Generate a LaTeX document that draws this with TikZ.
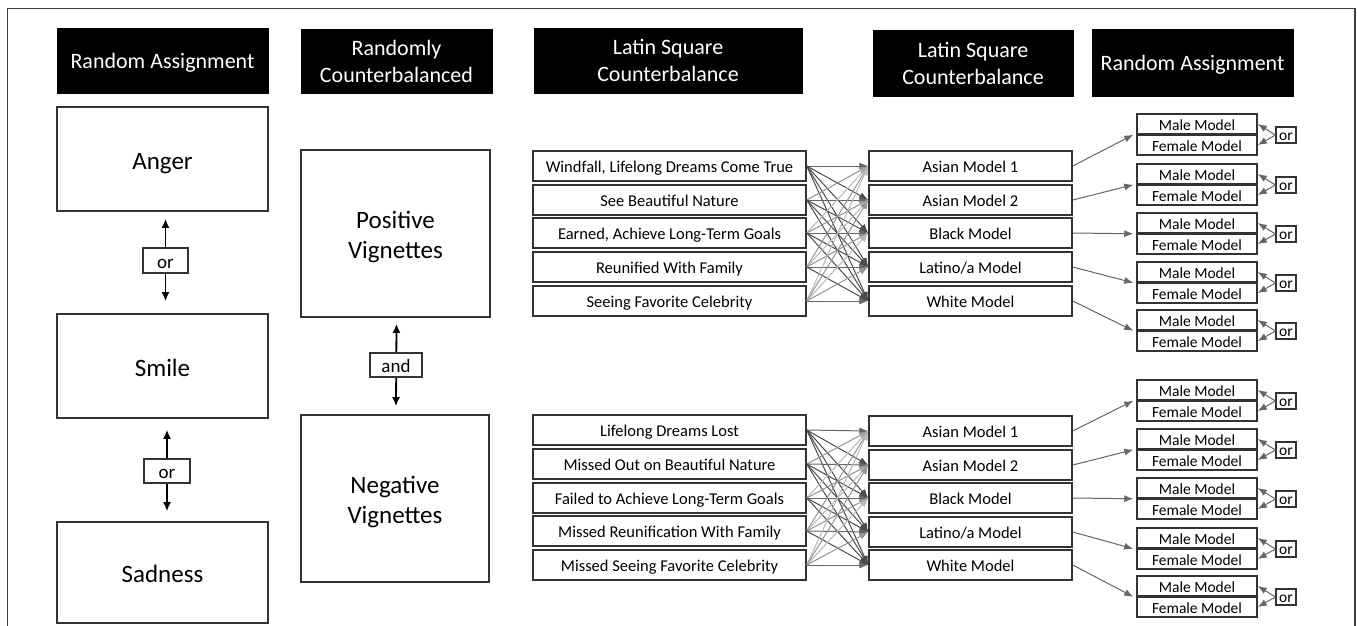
\documentclass[tikz,border=0pt]{standalone}
\usepackage{fontspec}
\setmainfont{Carlito}
\usetikzlibrary{arrows.meta}
\newcommand\placebox[7]{\node[#6, minimum width={((#4)-(#2))*1pt}, minimum height={((#5)-(#3))*1pt}] (#1) at ({((#2)+(#4))/2},{((#3)+(#5))/2}) {#7};}
\begin{document}
\begin{tikzpicture}[x=1pt,y=-1pt,
  hdr/.style={fill=black, draw=black, text=white, inner sep=0pt, align=center, font=\fontsize{22}{27}\selectfont},
  hdrone/.style={hdr, text height=16pt, text depth=0pt},
  bigbox/.style={draw=black!80, line width=1.6pt, fill=white, inner sep=0pt, font=\fontsize{25}{30}\selectfont, text height=20pt, text depth=0pt},
  emptybox/.style={draw=black!80, line width=1.6pt, fill=white, inner sep=0pt},
  bigtext/.style={inner sep=0pt, align=center, font=\fontsize{25}{30}\selectfont},
  orbox/.style={draw=black!80, line width=1.3pt, fill=white, inner sep=0pt, font=\fontsize{19}{22}\selectfont, text height=15pt, text depth=0pt},
  rowbox/.style={draw=black!80, line width=1.5pt, fill=white, inner sep=0pt, font=\fontsize{16.5}{20}\selectfont, text height=12pt, text depth=0pt},
  mfbox/.style={draw=black!80, line width=1.5pt, fill=white, inner sep=0pt, font=\fontsize{15.5}{18}\selectfont, text height=12pt, text depth=0pt},
  smallor/.style={draw=black!80, line width=1.1pt, fill=white, inner sep=0pt, font=\fontsize{15.5}{18}\selectfont, text height=11pt, text depth=0pt},
  mainarrow/.style={line width=1.8pt, {Latex[length=9pt,width=8pt]}-{Latex[length=9pt,width=8pt]}},
  cross/.style={line width=1pt, -{Latex[length=9pt,width=7pt]}},
  garrow/.style={draw=black!60, line width=1pt, -{Latex[length=9pt,width=7pt]}},
]
\useasboundingbox (0,0) rectangle (1357,625);
\fill[white] (0,0) rectangle (1357,625);
% frame
\draw[black!75, line width=1.3pt] (7.5,626) -- (7.5,8.5) -- (1355,8.5) -- (1355,626);

% headers
\placebox{h1}{57}{28}{268}{93}{hdrone}{Random Assignment}
\placebox{h2}{301}{29}{492}{93}{hdr}{Randomly\\Counterbalanced}
\placebox{h3}{534}{28}{802}{93}{hdr}{Latin Square\\Counterbalance}
\placebox{h4}{873}{30}{1073}{96}{hdr}{Latin Square\\Counterbalance}
\placebox{h5}{1092}{29}{1293}{96}{hdrone}{Random Assignment}

% emotions
\placebox{anger}{57}{107}{268}{211}{bigbox}{Anger}
\placebox{smile}{57}{314}{268}{418}{bigbox}{Smile}
\placebox{sad}{57}{522}{268}{623}{bigbox}{Sadness}
\draw[mainarrow] ([xshift=3pt,yshift=-7pt]anger.south) -- ([xshift=3pt,yshift=12pt]smile.north);
\placebox{or1}{143}{248}{188}{273}{orbox}{or}
\draw[mainarrow] ([xshift=4.5pt,yshift=-11pt]smile.south) -- ([xshift=4.5pt,yshift=10pt]sad.north);
\placebox{or2}{144}{459}{190}{483}{orbox}{or}

% vignettes
\placebox{pos}{301}{150}{490}{317}{emptybox}{}
\node[bigtext] (postext) at ([yshift=-3.5pt]pos.center) {Positive\\Vignettes};
\placebox{neg}{301}{415}{489}{582}{emptybox}{}
\node[bigtext] (negtext) at ([yshift=-3pt]neg.center) {Negative\\Vignettes};
\draw[mainarrow] ([xshift=1pt,yshift=-6pt]pos.south) -- ([xshift=1pt,yshift=8pt]neg.north);
\placebox{and}{370}{353}{422}{377}{orbox}{and}

% vignette rows
\foreach \k/\t/\txt in {1/151/{Windfall, Lifelong Dreams Come True},2/185/{See Beautiful Nature},3/218/{Earned, Achieve Long-Term Goals},4/252/{Reunified With Family},5/286/{Seeing Favorite Celebrity}}{
  \placebox{pv\k}{533}{\t}{806}{\t+30}{rowbox}{\txt}
}
\foreach \k/\t/\txt in {1/415/{Lifelong Dreams Lost},2/449/{Missed Out on Beautiful Nature},3/483/{Failed to Achieve Long-Term Goals},4/516/{Missed Reunification With Family},5/550/{Missed Seeing Favorite Celebrity}}{
  \placebox{nv\k}{533}{\t}{806}{\t+30}{rowbox}{\txt}
}
% models
\foreach \k/\t/\txt in {1/151/{Asian Model 1},2/185/{Asian Model 2},3/218/{Black Model},4/252/{Latino/a Model},5/286/{White Model}}{
  \placebox{pm\k}{869}{\t}{1072}{\t+30}{rowbox}{\txt}
}
\foreach \k/\t/\txt in {1/416/{Asian Model 1},2/450/{Asian Model 2},3/483/{Black Model},4/517/{Latino/a Model},5/550/{White Model}}{
  \placebox{nm\k}{869}{\t}{1072}{\t+30}{rowbox}{\txt}
}
% crossing arrows
\foreach \i in {1,...,5}{
  \foreach \j in {1,...,5}{
    \pgfmathtruncatemacro\shade{\j>\i ? 70 : (\j==\i ? 60 : 28+14*mod(\i+\j,2))}
    \draw[cross, draw=black!\shade] (pv\i.east) -- (pm\j.west);
    \draw[cross, draw=black!\shade] (nv\i.east) -- (nm\j.west);
  }
}

% male / female groups
\foreach \k/\t in {1/114,2/164,3/213,4/262,5/310}{
  \placebox{pmale\k}{1137}{\t}{1257}{\t+20}{mfbox}{Male Model}
  \placebox{pfem\k}{1137}{\t+21}{1257}{\t+41}{mfbox}{Female Model}
  \placebox{por\k}{1276}{\t+13}{1296}{\t+29}{smallor}{or}
  \draw[garrow] (pm\k.east) -- ([xshift=-3pt]pmale\k.south west);
  \draw[garrow] (por\k.west) -- (pmale\k.east);
  \draw[garrow] (por\k.west) -- (pfem\k.east);
}
\foreach \k/\t in {1/380,2/429,3/478,4/528,5/576}{
  \placebox{nmale\k}{1137}{\t}{1257}{\t+20}{mfbox}{Male Model}
  \placebox{nfem\k}{1137}{\t+21}{1257}{\t+41}{mfbox}{Female Model}
  \placebox{nor\k}{1276}{\t+13}{1296}{\t+29}{smallor}{or}
  \draw[garrow] (nm\k.east) -- ([xshift=-3pt]nmale\k.south west);
  \draw[garrow] (nor\k.west) -- (nmale\k.east);
  \draw[garrow] (nor\k.west) -- (nfem\k.east);
}
\end{tikzpicture}
\end{document}
